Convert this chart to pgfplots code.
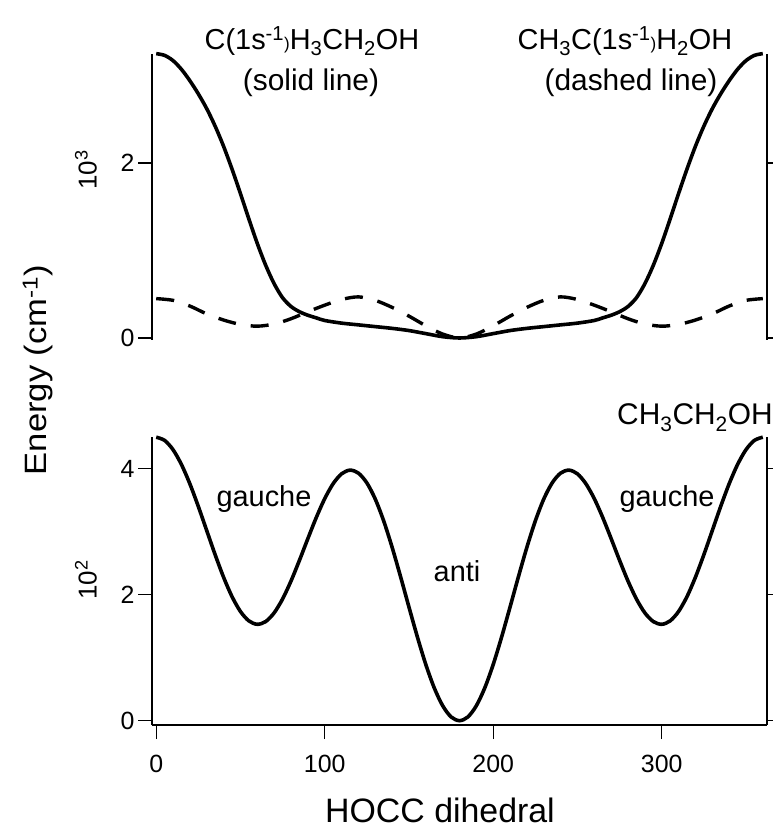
\documentclass[border=0pt]{standalone}
\usepackage{fontspec}
\setmainfont{Liberation Sans}
\usepackage{pgfplots}
\pgfplotsset{compat=1.18}

\newcommand\fs[1]{\fontsize{#1}{#1}\selectfont}

\begin{document}
\begin{tikzpicture}
\useasboundingbox (0bp,0bp) rectangle (773bp,828bp);
\pgfplotsset{
  panel/.style={
    scale only axis, width=615bp,
    xmin=-2.5, xmax=362.5,
    separate axis lines,
    axis line style={line width=1.3bp},
    tick style={line width=1.3bp, black},
    major tick length=14bp,
    tick align=outside,
    ytick pos=both, yticklabel pos=left,
    ticklabel style={font=\fs{25}},
    /pgf/number format/assume math mode=true,
    clip=false,
  },
}
% upper panel: core-ionised ethanol, units of 10^3 cm^-1
\begin{axis}[panel, at={(152bp,488.25bp)}, anchor=south west, height=286.1bp,
  ymin=-0.02, ymax=3.25, ytick={0,2},
  axis y line*=box, hide x axis]
\addplot[black, line width=3.6bp, smooth] coordinates {
 (0,3.25) (5,3.23) (10,3.17) (15,3.07) (20,2.94) (25,2.79) (30,2.62) (35,2.42)
 (40,2.19) (45,1.93) (50,1.65) (55,1.36) (60,1.08) (65,0.83) (70,0.62) (75,0.46)
 (80,0.36) (85,0.30) (90,0.26) (95,0.23) (100,0.20) (110,0.17) (120,0.15)
 (130,0.13) (140,0.11) (150,0.085) (160,0.05) (170,0.015) (180,0)
 (190,0.015) (200,0.05) (210,0.085) (220,0.11) (230,0.13) (240,0.15) (250,0.17)
 (260,0.20) (265,0.23) (270,0.26) (275,0.30) (280,0.36) (285,0.46) (290,0.62)
 (295,0.83) (300,1.08) (305,1.36) (310,1.65) (315,1.93) (320,2.19) (325,2.42)
 (330,2.62) (335,2.79) (340,2.94) (345,3.07) (350,3.17) (355,3.23) (360,3.25)};
\addplot[black, line width=3.4bp, smooth, dash pattern=on 18bp off 15bp] coordinates {
 (0,0.45) (10,0.43) (20,0.365) (30,0.275) (40,0.205) (50,0.155) (60,0.135)
 (70,0.16) (80,0.22) (90,0.30) (100,0.375) (110,0.44) (120,0.47) (130,0.43)
 (140,0.35) (150,0.25) (160,0.14) (170,0.045) (180,0)
 (190,0.045) (200,0.14) (210,0.25) (220,0.35) (230,0.43) (240,0.47) (250,0.44)
 (260,0.375) (270,0.30) (280,0.22) (290,0.16) (300,0.135) (310,0.155)
 (320,0.205) (330,0.275) (340,0.365) (350,0.43) (360,0.45)};
\end{axis}
% lower panel: neutral ethanol, units of 10^2 cm^-1
\begin{axis}[panel, at={(152bp,102.9bp)}, anchor=south west, height=287.9bp,
  ymin=-0.07, ymax=4.5, ytick={0,2,4},
  axis y line*=box, axis x line*=bottom,
  xtick={0,100,200,300}, xtick pos=bottom,
  xticklabel style={yshift=-12bp}]
\addplot[black, line width=3.6bp, smooth] coordinates {
 (0,4.50) (5,4.449) (10,4.301) (15,4.065) (20,3.758) (25,3.400) (30,3.016)
 (35,2.633) (40,2.276) (45,1.969) (50,1.733) (55,1.584) (60,1.530) (65,1.574)
 (70,1.712) (75,1.932) (80,2.217) (85,2.545) (90,2.890) (95,3.225) (100,3.524)
 (105,3.762) (110,3.918) (115,3.977) (120,3.930) (125,3.775) (130,3.518)
 (135,3.171) (140,2.753) (145,2.288) (150,1.804) (155,1.329) (160,0.892)
 (165,0.521) (170,0.238) (175,0.060) (180,0)
 (185,0.060) (190,0.238) (195,0.521) (200,0.892) (205,1.329) (210,1.804)
 (215,2.288) (220,2.753) (225,3.171) (230,3.518) (235,3.775) (240,3.930)
 (245,3.977) (250,3.918) (255,3.762) (260,3.524) (265,3.225) (270,2.890)
 (275,2.545) (280,2.217) (285,1.932) (290,1.712) (295,1.574) (300,1.530)
 (305,1.584) (310,1.733) (315,1.969) (320,2.276) (325,2.633) (330,3.016)
 (335,3.400) (340,3.758) (345,4.065) (350,4.301) (355,4.449) (360,4.50)};
\end{axis}

% labels
\node[font=\fs{29}, anchor=base] at (312bp,778bp)
  {C(1s\textsuperscript{-1}{\fs{17})}H\textsubscript{3}CH\textsubscript{2}OH};
\node[font=\fs{30}, anchor=base] at (311bp,737bp) {(solid line)};
\node[font=\fs{29}, anchor=base] at (625bp,778bp)
  {CH\textsubscript{3}C(1s\textsuperscript{-1}{\fs{17})}H\textsubscript{2}OH};
\node[font=\fs{30}, anchor=base] at (631bp,737bp) {(dashed line)};
\node[font=\fs{30}, anchor=base west, inner sep=0] at (617bp,403bp)
  {CH\textsubscript{3}CH\textsubscript{2}OH};
\node[font=\fs{29}, anchor=base] at (264bp,321bp) {gauche};
\node[font=\fs{29}, anchor=base] at (457bp,246bp) {anti};
\node[font=\fs{29}, anchor=base] at (667bp,321bp) {gauche};
\node[font=\fs{34}, anchor=base, inner sep=0] at (440bp,6bp) {HOCC dihedral};
\node[rotate=90] at (38bp,458bp)
  {\scalebox{1.12}[1]{\fs{31}Energy (cm\textsuperscript{-1})}};
\node[font=\fs{26}, rotate=90] at (86bp,658bp) {10\textsuperscript{3}};
\node[font=\fs{26}, rotate=90] at (86bp,248bp) {10\textsuperscript{2}};
\end{tikzpicture}
\end{document}
